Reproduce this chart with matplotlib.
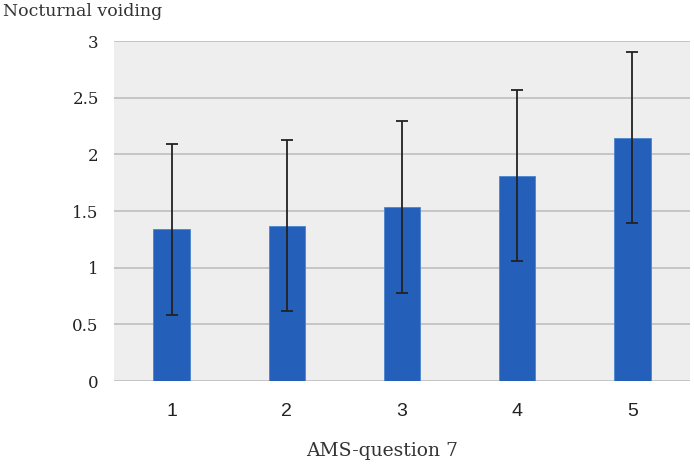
import numpy as np
import matplotlib.pyplot as plt

categories = ["1", "2", "3", "4", "5"]
means = [1.34, 1.37, 1.535, 1.81, 2.145]
errors = [0.755, 0.755, 0.76, 0.755, 0.755]
yticks = [0, 0.5, 1, 1.5, 2, 2.5, 3]
ytick_labels = ["0", "0.5", "1", "1.5", "2", "2.5", "3"]

W, H = 694, 466
fig = plt.figure(figsize=(W / 100, H / 100), dpi=100)
ax = fig.add_axes([114 / W, 1 - 381 / H, 576 / W, 340 / H])
ax.set_facecolor("#eeeeee")

x = np.arange(len(categories))
ax.bar(x, means, width=0.315, color="#245fba", edgecolor="#4a86cf", linewidth=0.6, zorder=3)
ax.errorbar(x, means, yerr=errors, fmt="none", ecolor="#222222", elinewidth=1.3,
            capsize=4, capthick=1.3, zorder=4)

ax.set_xlim(-0.5, len(categories) - 0.5)
ax.set_ylim(0, 3)
ax.set_yticks(yticks)
ax.set_yticklabels(ytick_labels, fontfamily="DejaVu Serif", fontsize=12)
ax.set_xticks(x)
ax.set_xticklabels(categories, fontfamily="Liberation Sans", fontsize=14)
ax.tick_params(axis="y", length=0, pad=11, colors="#222222")
ax.tick_params(axis="x", length=0, pad=16, colors="#222222")
ax.grid(axis="y", color="#c2c2c2", linewidth=1.3, zorder=1)
for s in ax.spines.values():
    s.set_visible(False)

fig.text(3 / W, 1 - 3 / H, "Nocturnal voiding", fontfamily="DejaVu Serif",
         fontsize=12.5, color="#333333", ha="left", va="top")
fig.text(382 / W, 1 - 451 / H, "AMS-question 7", fontfamily="DejaVu Serif",
         fontsize=13.5, color="#333333", ha="center", va="center")

fig.savefig("out.png", dpi=100)
